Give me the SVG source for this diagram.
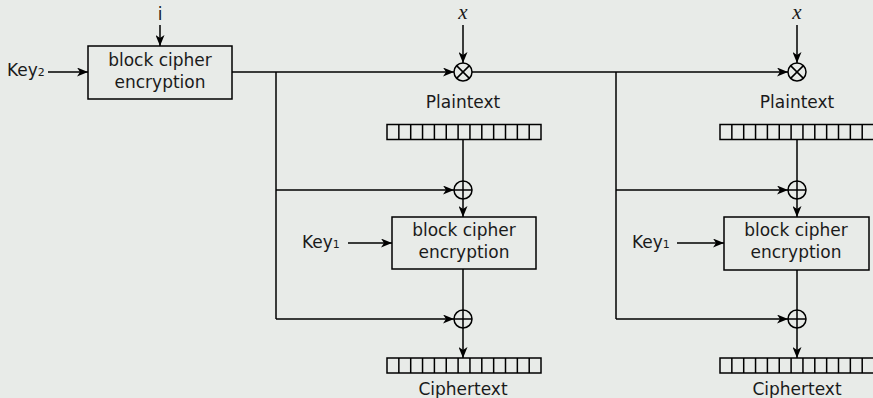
<svg xmlns="http://www.w3.org/2000/svg" xmlns:xlink="http://www.w3.org/1999/xlink" width="873" height="398" viewBox="0 0 873 398">
  <style>
    .ln { fill: none; stroke: #000; stroke-width: 1.5; }
    .box { fill: none; stroke: #000; stroke-width: 1.5; }
    .t { font-family: "DejaVu Sans", sans-serif; font-size: 17px; fill: #1a1a1a; }
    .c { text-anchor: middle; }
    .sub { font-size: 11px; }
    .m { font-family: "Liberation Serif", serif; font-style: italic; font-size: 21px; fill: #1a1a1a; text-anchor: middle; }
    .arr { marker-end: url(#ah); }
  </style>
  <defs>
    <marker id="ah" markerWidth="12" markerHeight="9" refX="11" refY="4.5" orient="auto" markerUnits="userSpaceOnUse">
      <path d="M0,0 L11,4.5 L0,9 L3,4.5 z" fill="#000"/>
    </marker>
    <!-- 13-cell register -->
    <g id="reg">
      <rect x="0" y="0" width="154" height="15" class="box"/>
      <path class="ln" d="M11.85,0v15M23.7,0v15M35.55,0v15M47.4,0v15M59.25,0v15M71.1,0v15M82.95,0v15M94.8,0v15M106.65,0v15M118.5,0v15M130.35,0v15M142.2,0v15"/>
    </g>
    <g id="xor">
      <circle r="9" class="ln"/>
      <path class="ln" d="M-9,0H9M0,-9V9"/>
    </g>
    <g id="mul">
      <circle r="9" class="ln"/>
      <path class="ln" d="M-6.4,-6.4L6.4,6.4M-6.4,6.4L6.4,-6.4"/>
    </g>
  </defs>

  <rect width="873" height="398" fill="#e8ebe8"/>

  <!-- tweak encryption -->
  <g id="tweak-enc">
    <rect x="88" y="46" width="144" height="53" class="box"/>
    <text class="t c" x="160" y="66">block cipher</text>
    <text class="t c" x="160" y="88">encryption</text>
  </g>
  <g id="label-i"><text class="t c" x="160" y="20">i</text></g>
  <g id="label-key2"><text class="t" x="7" y="76">Key<tspan class="sub">2</tspan></text></g>

  <!-- block 1 -->
  <g id="mul-1"><use xlink:href="#mul" x="463" y="72"/></g>
  <g id="x-1"><text class="m" x="463" y="19">x</text></g>
  <g id="plain-1">
    <text class="t c" x="463" y="108">Plaintext</text>
    <use xlink:href="#reg" x="387" y="124.5"/>
  </g>
  <g id="xor-1a"><use xlink:href="#xor" x="463" y="190"/></g>
  <g id="enc-1">
    <rect x="392" y="217" width="144" height="52" class="box"/>
    <text class="t c" x="464" y="236">block cipher</text>
    <text class="t c" x="464" y="258">encryption</text>
  </g>
  <g id="key1-1"><text class="t" x="302" y="248">Key<tspan class="sub">1</tspan></text></g>
  <g id="xor-1b"><use xlink:href="#xor" x="463" y="319"/></g>
  <g id="cipher-1">
    <use xlink:href="#reg" x="387" y="358"/>
    <text class="t c" x="463" y="395">Ciphertext</text>
  </g>

  <!-- block 2 -->
  <g id="mul-2"><use xlink:href="#mul" x="797" y="72"/></g>
  <g id="x-2"><text class="m" x="797" y="19">x</text></g>
  <g id="plain-2">
    <text class="t c" x="797" y="108">Plaintext</text>
    <use xlink:href="#reg" x="720" y="124.5"/>
  </g>
  <g id="xor-2a"><use xlink:href="#xor" x="797" y="190"/></g>
  <g id="enc-2">
    <rect x="724" y="217" width="145" height="53" class="box"/>
    <text class="t c" x="796" y="236">block cipher</text>
    <text class="t c" x="796" y="258">encryption</text>
  </g>
  <g id="key1-2"><text class="t" x="632" y="248">Key<tspan class="sub">1</tspan></text></g>
  <g id="xor-2b"><use xlink:href="#xor" x="797" y="319"/></g>
  <g id="cipher-2">
    <use xlink:href="#reg" x="720" y="358"/>
    <text class="t c" x="797" y="395">Ciphertext</text>
  </g>

  <!-- connectors -->
  <g id="connectors">
    <path class="ln arr" d="M160,25V46"/>
    <path class="ln arr" d="M48,72H88"/>
    <path class="ln arr" d="M232,72H454"/>
    <path class="ln arr" d="M472,72H788"/>
    <path class="ln arr" d="M463,25V63"/>
    <path class="ln arr" d="M797,25V63"/>

    <path class="ln" d="M276,72V319"/>
    <path class="ln arr" d="M276,190H454"/>
    <path class="ln arr" d="M276,319H454"/>
    <path class="ln" d="M463,140V181"/>
    <path class="ln arr" d="M463,199V217"/>
    <path class="ln arr" d="M348,243H392"/>
    <path class="ln" d="M463,269V310"/>
    <path class="ln arr" d="M463,328V358"/>

    <path class="ln" d="M616,72V319"/>
    <path class="ln arr" d="M616,190H788"/>
    <path class="ln arr" d="M616,319H788"/>
    <path class="ln" d="M797,140V181"/>
    <path class="ln arr" d="M797,199V217"/>
    <path class="ln arr" d="M677,243H724"/>
    <path class="ln" d="M797,270V310"/>
    <path class="ln arr" d="M797,328V358"/>
  </g>
</svg>
